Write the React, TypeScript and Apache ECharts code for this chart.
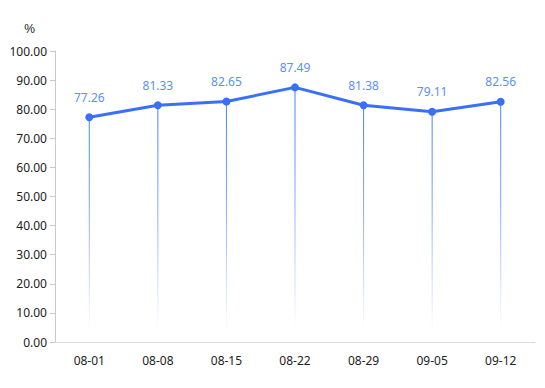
import React, { useEffect, useRef } from "react";
import * as echarts from "echarts";

const categories = ["08-01", "08-08", "08-15", "08-22", "08-29", "09-05", "09-12"];
const values = [77.26, 81.33, 82.65, 87.49, 81.38, 79.11, 82.56];

export default function App() {
  const ref = useRef<HTMLDivElement>(null);
  useEffect(() => {
    const chart = echarts.init(ref.current!, null, { renderer: "svg" });
    chart.setOption({
      animation: false,
      grid: { left: 55, right: 10, top: 51, bottom: 46 },
      xAxis: {
        type: "category",
        data: categories,
        axisLine: { lineStyle: { color: "#dcdcdc" } },
        axisTick: { lineStyle: { color: "#dcdcdc" } },
        axisLabel: { color: "#222", fontSize: 12, margin: 12, fontFamily: "Noto Sans, sans-serif" },
      },
      yAxis: {
        type: "value",
        min: 0,
        max: 100,
        interval: 10,
        name: "%",
        nameGap: 16,
        nameTextStyle: { color: "#222", fontSize: 12, align: "right", padding: [0, 20, 0, 0] },
        axisLine: { show: true, lineStyle: { color: "#c8c8c8" } },
        axisTick: { show: true, lineStyle: { color: "#c8c8c8" } },
        splitLine: { show: false },
        axisLabel: {
          color: "#222",
          fontSize: 12,
          fontFamily: "Noto Sans, sans-serif",
          formatter: (v: number) => v.toFixed(2),
        },
      },
      series: [
        {
          type: "bar",
          data: values,
          barWidth: 1,
          silent: true,
          z: 1,
          itemStyle: {
            color: new echarts.graphic.LinearGradient(0, 0, 0, 1, [
              { offset: 0, color: "rgba(70,125,255,1)" },
              { offset: 0.4, color: "rgba(70,125,255,0.7)" },
              { offset: 0.95, color: "rgba(70,125,255,0)" },
              { offset: 1, color: "rgba(70,125,255,0)" },
            ]),
          },
        },
        {
          type: "line",
          data: values,
          z: 3,
          symbol: "circle",
          symbolSize: 8,
          lineStyle: { color: "#3a6ff7", width: 3 },
          itemStyle: { color: "#3a6ff7" },
          label: {
            show: true,
            position: "top",
            distance: 10,
            color: "#5b8ff9",
            fontSize: 12,
            fontFamily: "Noto Sans, sans-serif",
            formatter: (p: any) => p.value.toFixed(2),
          },
        },
      ],
    });
    return () => chart.dispose();
  }, []);
  return <div ref={ref} style={{ width: 545, height: 388, margin: -8 }} />;
}
